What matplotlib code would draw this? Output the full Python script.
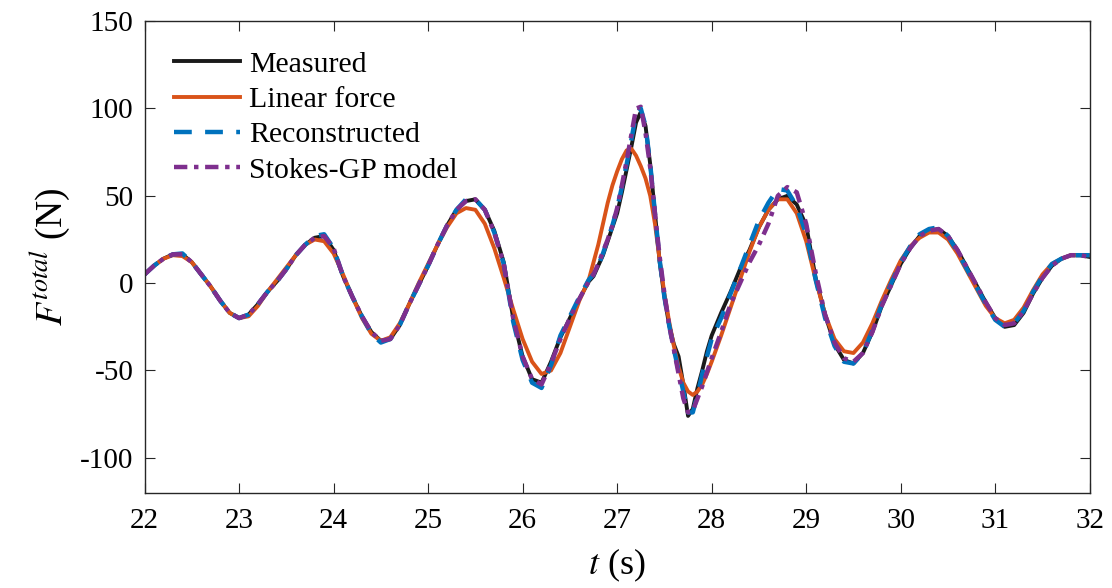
import matplotlib.pyplot as plt
import numpy as np

plt.rcParams['font.family'] = ['Liberation Serif', 'DejaVu Serif']
plt.rcParams['mathtext.fontset'] = 'stix'
plt.rcParams['axes.unicode_minus'] = False

# time axis (s): 0.1 s steps, 0.05 s around the big wave
t = np.round(np.concatenate([np.arange(22.0, 26.75, 0.1),
                             np.arange(26.75, 28.025, 0.05),
                             np.arange(28.1, 32.05, 0.1)]), 2)

measured = [
    # 22.0 - 26.7
    5, 10, 14, 16.5, 16.5, 12, 5, -2, -10, -17,
    -20, -18, -12, -5, 1, 8, 16, 22, 26, 27,
    19, 4, -8, -19, -28, -33, -32, -24, -12, -1,
    10, 22, 33, 42, 47, 48, 42, 30, 12, -20,
    -42, -55, -57, -45, -31, -20, -9, 1,
    # 26.75 - 28.0
    4, 10, 16, 24, 32, 40, 52, 65, 78, 92,
    98, 90, 68, 40, 12, -8, -24, -35, -42, -58,
    -76, -72, -60, -50, -39, -30,
    # 28.1 - 32.0
    -17, -5, 8, 19, 32, 42, 48, 50, 45,
    33, 3, -18, -35, -44, -46, -40, -28, -13, -1,
    11, 20, 27, 30, 31, 27, 19, 9, -1, -11,
    -20, -25, -24, -17, -6, 3, 10, 14, 16, 16, 15]

linear_force = [
    5, 10, 14, 16, 15.5, 12, 5, -2, -10, -17,
    -20, -19, -13, -5, 2, 9, 16, 22, 25, 24,
    17, 5, -8, -20, -29, -33, -31, -23, -12, 0,
    11, 22, 32, 40, 43, 42, 34, 20, 3, -15,
    -32, -45, -52, -50, -40, -25, -10, 2,
    12, 22, 34, 46, 56, 64, 71, 76, 77, 73,
    67, 60, 50, 34, 13, -6, -22, -36, -48, -57,
    -62, -64, -62, -58, -52, -45,
    -30, -14, 2, 18, 32, 42, 48, 48, 40,
    24, 2, -18, -32, -39, -40, -34, -23, -10, 2,
    13, 21, 26, 29, 29, 25, 17, 7, -3, -13,
    -20, -23, -21, -14, -4, 5, 11, 14, 16, 16, 16]

reconstructed = [
    5, 10, 14, 16.5, 17, 12, 5, -2, -10, -17,
    -20, -18, -12, -5, 1, 8, 16, 22, 27, 28,
    20, 4, -8, -19, -29, -34, -32, -24, -12, -1,
    10, 22, 33, 42, 48, 48, 42, 29, 11, -22,
    -44, -57, -60, -47, -30, -19, -8, 2,
    5, 10, 17, 25, 33, 43, 55, 68, 82, 97,
    100, 90, 68, 40, 13, -8, -24, -38, -50, -62,
    -74, -74, -64, -52, -42, -32,
    -20, -6, 8, 22, 36, 46, 54, 53, 44,
    28, 2, -20, -36, -45, -46, -40, -27, -12, 0,
    12, 21, 28, 31, 32, 27, 18, 8, -2, -12,
    -21, -25, -23, -16, -5, 4, 11, 14, 16, 16, 16]

stokes_gp = [
    5, 10, 14, 16.5, 16.5, 12, 5, -2, -10, -17,
    -20, -18, -12, -5, 1, 8, 16, 22, 26, 27,
    20, 4, -8, -19, -28, -33, -32, -24, -12, -1,
    10, 22, 33, 42, 47, 48, 42, 29, 11, -20,
    -42, -55, -58, -46, -32, -20, -9, 1,
    5, 11, 18, 25, 33, 43, 56, 70, 85, 100,
    101, 86, 66, 40, 15, -6, -24, -38, -52, -66,
    -74, -73, -66, -59, -51, -43,
    -28, -12, 0, 12, 22, 34, 50, 55, 52,
    34, 6, -18, -34, -43, -45, -40, -28, -13, -1,
    11, 20, 27, 30, 31, 27, 19, 9, -1, -11,
    -20, -24, -23, -16, -6, 3, 10, 14, 16, 16, 15]

fig = plt.figure(figsize=(11.12, 5.88), dpi=100, facecolor='white')
ax = fig.add_axes([0.130, 0.162, 0.850, 0.802])

ax.plot(t, measured, color='#1a1a1a', lw=2.8, label='Measured')
ax.plot(t, linear_force, color='#D95319', lw=2.8, label='Linear force')
ax.plot(t, reconstructed, color='#0072BD', lw=3.2, ls=(0, (4, 3)),
        label='Reconstructed')
ax.plot(t, stokes_gp, color='#7E2F8E', lw=3.2, ls=(0, (3, 1.5, 1, 1.5)),
        label='Stokes-GP model')

ax.set_xlim(22, 32)
ax.set_ylim(-120, 150)
ax.set_xticks(np.arange(22, 33, 1))
ax.set_yticks(np.arange(-100, 151, 50))
ax.tick_params(direction='in', top=True, right=True, labelsize=21,
               length=7, width=0.8, color='#262626')
ax.tick_params(axis='x', pad=11)
ax.tick_params(axis='y', pad=8)
for s in ax.spines.values():
    s.set_color('#262626')
    s.set_linewidth(1.0)

ax.set_xlabel('$t$ (s)', fontsize=26, labelpad=9)
ax.set_ylabel('$F^{total}$ (N)', fontsize=27, labelpad=6)

ax.legend(loc='upper left', frameon=False, fontsize=21.5, handlelength=2.2,
          handletextpad=0.3, labelspacing=0.28, borderaxespad=0.6)

fig.savefig('out.png', dpi=100)
